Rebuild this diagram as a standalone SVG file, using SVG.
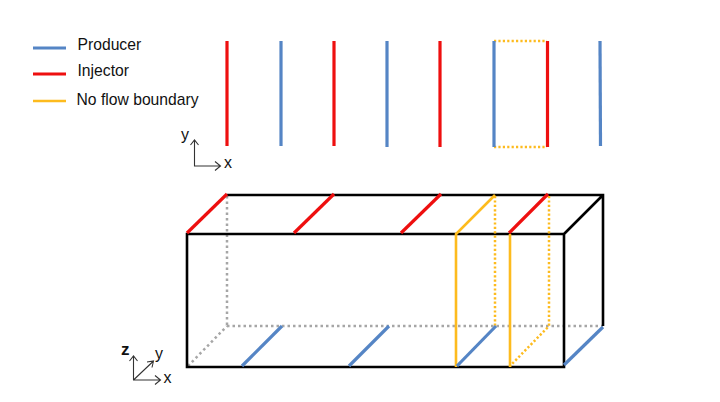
<svg xmlns="http://www.w3.org/2000/svg" width="720" height="402" viewBox="0 0 720 402">
<style>
.t{font-family:"Liberation Sans",Arial,sans-serif;fill:#111}
.l{font-size:15.700px}
.a{font-size:16px}
line,path{fill:none}
.p{stroke:#5585c5;stroke-width:3.200}
.i{stroke:#ee0f0f;stroke-width:3.200}
.n{stroke:#fdbb1e;stroke-width:2.600}
.nd{stroke:#fdbb1e;stroke-width:2.500;stroke-dasharray:2.200 2.200}
.k{stroke:#000;stroke-width:2.600}
.g{stroke:#a6a6a6;stroke-width:2.500;stroke-dasharray:2.500 3}
.ax{stroke:#333;stroke-width:1.100}
</style>
<rect width="720" height="402" fill="#fff"/>
<g id="legend">
<line class="p" x1="33" y1="48" x2="66" y2="48"/>
<line class="i" x1="33" y1="74" x2="66" y2="74"/>
<line class="n" x1="33" y1="101" x2="66" y2="101"/>
<text class="t l" x="77.500" y="50">Producer</text>
<text class="t l" x="77.500" y="75.500">Injector</text>
<text class="t l" x="76.500" y="105">No flow boundary</text>
</g>
<g id="plan-wells">
<line class="i" x1="227" y1="41" x2="227" y2="146"/>
<line class="p" x1="281" y1="41" x2="281" y2="146"/>
<line class="i" x1="334" y1="41" x2="334" y2="146"/>
<line class="p" x1="387" y1="41" x2="387" y2="147"/>
<line class="i" x1="440" y1="41" x2="440" y2="147"/>
<line class="nd" x1="494" y1="41" x2="547" y2="41"/>
<line class="nd" x1="494" y1="147" x2="547" y2="147"/>
<line class="p" x1="494" y1="41" x2="494" y2="147"/>
<line class="i" x1="547.500" y1="41" x2="547.500" y2="147"/>
<line class="p" x1="600" y1="41" x2="600.500" y2="146"/>
</g>
<g id="plan-axes">
<path class="ax" d="M194.500 140V166H220M190.500 145L194.500 140L198.500 145M215 161.500L220.500 166L215 170.500"/>
<text class="t a" x="181" y="140">y</text>
<text class="t a" x="224" y="168">x</text>
</g>
<g id="box-hidden">
<line class="g" x1="227" y1="196" x2="227" y2="326"/>
<line class="g" x1="227" y1="326" x2="603" y2="326"/>
<line class="g" x1="188" y1="366" x2="227" y2="326"/>
</g>
<g id="box">
<path class="k" d="M227 195H603V326M187 234H564V367H187ZM564 234L603 195"/>
</g>
<g id="boundary">
<path class="n" d="M456 367V234L495 195M510 367V234"/>
<path class="nd" d="M495 196V326M549 196V326L510 366"/>
</g>
<g id="box-wells">
<line class="i" x1="187" y1="233" x2="227" y2="194"/>
<line class="i" x1="294" y1="233" x2="334" y2="194"/>
<line class="i" x1="401" y1="233" x2="441" y2="194"/>
<line class="i" x1="509" y1="233" x2="548" y2="194"/>
<line class="p" x1="242" y1="366" x2="282" y2="326"/>
<line class="p" x1="349" y1="366" x2="389" y2="326"/>
<line class="p" x1="457" y1="366" x2="496" y2="326"/>
<line class="p" x1="564" y1="365" x2="603" y2="327"/>
</g>
<g id="box-axes">
<path class="ax" d="M133.500 356V380H160M129.500 361L133.500 356L137.500 361M155 375.500L160.500 380L155 384.500M133.500 380L153 361.500M147 362L153.500 361L152 367.500"/>
<text class="t" style="font-size:17px;font-weight:bold" x="121" y="355">z</text>
<text class="t a" x="155" y="359">y</text>
<text class="t a" x="163.500" y="383">x</text>
</g>
</svg>
